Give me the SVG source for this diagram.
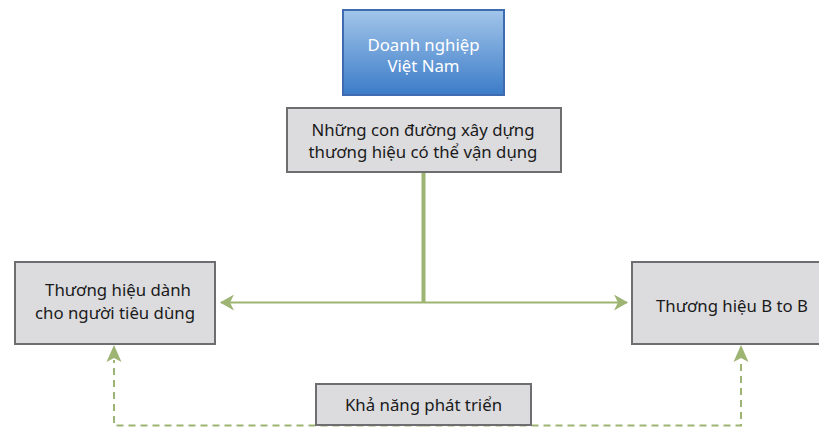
<svg xmlns="http://www.w3.org/2000/svg" width="819" height="427" viewBox="0 0 819 427">
  <defs>
    <linearGradient id="blueFill" x1="0" y1="0" x2="0" y2="1">
      <stop offset="0" stop-color="#A3C5EA"/>
      <stop offset="1" stop-color="#3B7CC8"/>
    </linearGradient>
    <marker id="arrow" viewBox="0 0 14 16" refX="13" refY="8" markerWidth="14" markerHeight="16" markerUnits="userSpaceOnUse" orient="auto">
      <path d="M0,0 L14,8 L0,16 L4,8 Z" fill="#9DB473"/>
    </marker>
  </defs>
  <style>
    .box { fill: #DCDCDF; stroke: #6E6E70; stroke-width: 2; }
    .lbl { font-family: "Noto Sans", "Open Sans", sans-serif; font-size: 16.8px; fill: #1A1A1A; text-anchor: middle; }
    .lblw { font-family: "Noto Sans", "Open Sans", sans-serif; font-size: 16.8px; fill: #FFFFFF; text-anchor: middle; }
    .solid { fill: none; stroke: #9DB473; }
    .dash { fill: none; stroke: #9DB473; stroke-width: 2; stroke-dasharray: 7 5; }
  </style>

  <rect width="819" height="427" fill="#FFFFFF"/>

  <g id="connectors">
    <line class="solid" x1="423.5" y1="172" x2="423.5" y2="303" stroke-width="4"/>
    <line class="solid" x1="423.5" y1="302.5" x2="221" y2="302.5" stroke-width="2" marker-end="url(#arrow)"/>
    <line class="solid" x1="423.5" y1="302.5" x2="627" y2="302.5" stroke-width="2" marker-end="url(#arrow)"/>
    <polyline class="dash" points="423.5,425.5 114,425.5 114,360"/>
    <polyline class="dash" points="423.5,425.5 741,425.5 741,360"/>
    <path d="M114,345 L121.5,362 L114,358 L106.5,362 Z" fill="#9DB473"/>
    <path d="M741,345 L748.5,362 L741,358 L733.5,362 Z" fill="#9DB473"/>
  </g>

  <g id="node-doanh-nghiep">
    <rect x="343" y="10" width="161" height="85" fill="url(#blueFill)" stroke="#3F6CB0" stroke-width="2"/>
    <text class="lblw" x="423.5" y="51">Doanh nghiệp</text>
    <text class="lblw" x="423.5" y="72">Việt Nam</text>
  </g>

  <g id="node-con-duong">
    <rect class="box" x="287" y="108" width="274" height="64"/>
    <text class="lbl" x="423" y="136">Những con đường xây dựng</text>
    <text class="lbl" x="423" y="158">thương hiệu có thể vận dụng</text>
  </g>

  <g id="node-nguoi-tieu-dung">
    <rect class="box" x="15" y="262" width="200" height="82"/>
    <text class="lbl" x="118" y="296">Thương hiệu dành</text>
    <text class="lbl" x="115" y="319">cho người tiêu dùng</text>
  </g>

  <g id="node-b2b">
    <rect class="box" x="632" y="262" width="200" height="82"/>
    <text class="lbl" x="732" y="312">Thương hiệu B to B</text>
  </g>

  <g id="node-kha-nang">
    <rect class="box" x="316" y="384" width="215" height="41"/>
    <text class="lbl" x="423.5" y="411">Khả năng phát triển</text>
  </g>
</svg>
